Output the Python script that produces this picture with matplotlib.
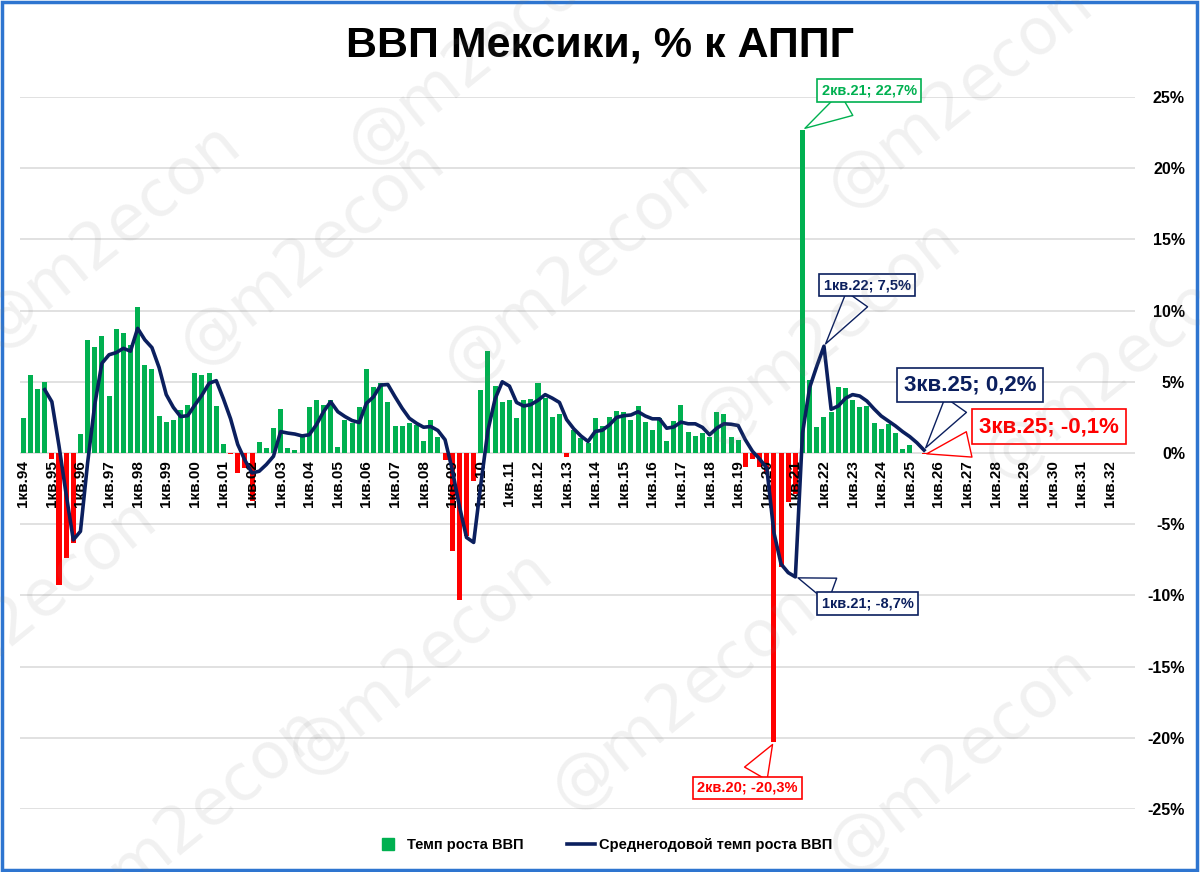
import numpy as np
import matplotlib
matplotlib.use("Agg")
from matplotlib import pyplot as plt
from matplotlib.patches import Rectangle
from matplotlib.lines import Line2D

plt.rcParams['font.family'] = ['Liberation Sans', 'DejaVu Sans']

# quarterly y/y GDP growth, 1кв.94 .. 3кв.25
gdp_growth = [
    2.47, 5.5, 4.5, 5.0,        # 94
    -0.4, -9.3, -7.35, -6.3,    # 95
    1.35, 7.9, 7.45, 8.25,      # 96
    4.0, 8.7, 8.4, 7.6,         # 97
    10.25, 6.15, 5.9, 2.6,      # 98
    2.2, 2.35, 3.0, 3.35,       # 99
    5.65, 5.5, 5.65, 3.3,       # 00
    0.6, -0.05, -1.4, -1.05,    # 01
    -3.4, 0.8, 0.35, 1.75,      # 02
    3.1, 0.35, 0.2, 1.1,        # 03
    3.25, 3.75, 3.35, 3.75,     # 04
    0.42, 2.3, 2.1, 3.2,        # 05
    5.93, 4.6, 4.95, 3.56,      # 06
    1.9, 1.9, 2.14, 1.95,       # 07
    0.81, 2.33, 1.1, -0.5,      # 08
    -6.85, -10.35, -5.85, -2.0, # 09
    4.45, 7.15, 4.7, 3.55,      # 10
    3.7, 2.45, 3.7, 3.8,        # 11
    4.9, 3.85, 2.5, 2.75,       # 12
    -0.3, 1.6, 1.05, 0.7,       # 13
    2.45, 1.9, 2.5, 2.95,       # 14
    2.85, 2.35, 3.3, 2.2,       # 15
    1.63, 2.44, 0.86, 2.28,     # 16
    3.37, 1.44, 1.16, 1.4,      # 17
    1.12, 2.86, 2.74, 1.12,     # 18
    0.93, -0.98, -0.42, -0.98,  # 19
    -1.3, -20.3, -8.0, -3.44,   # 20
    -2.9, 22.7, 5.1, 1.86,      # 21
    2.56, 2.9, 4.6, 4.53,       # 22
    3.72, 3.26, 3.3, 2.1,       # 23
    1.7, 2.02, 1.4, 0.28,       # 24
    0.58, 0.0, -0.1,            # 25
]

# average annual growth, 4кв.94 .. 3кв.25
avg_growth = [
    4.45,
    3.6, 0.5, -2.9, -6.1,
    -5.5, -0.7, 3.4, 6.3,
    6.9, 7.05, 7.35, 7.15,
    8.75, 7.95, 7.4, 6.0,
    4.1, 3.2, 2.56, 2.62,
    3.37, 4.07, 4.9, 5.08,
    3.8, 2.4, 0.6, -0.5,
    -1.4, -1.28, -0.81, -0.23,
    1.5, 1.4, 1.33, 1.2,
    1.28, 1.98, 2.9, 3.6,
    2.9, 2.56, 2.28, 2.14,
    3.49, 3.95, 4.77, 4.81,
    3.95, 3.14, 2.44, 2.09,
    1.81, 1.86, 1.58, 0.93,
    -1.16, -3.72, -5.93, -6.28,
    -2.2, 1.6, 3.8, 5.0,
    4.7, 3.55, 3.3, 3.4,
    3.7, 4.1, 3.85, 3.55,
    2.35, 1.7, 1.2, 0.81,
    1.51, 1.6, 1.98, 2.5,
    2.62, 2.67, 2.9, 2.6,
    2.4, 2.4, 1.74, 1.83,
    2.17, 2.05, 2.05, 1.8,
    1.28, 1.74, 2.05, 2.02,
    1.93, 0.93, 0.12, -0.42,
    -1.05, -5.6, -7.8, -8.4,
    -8.7, 1.4, 4.6, 6.1,
    7.5, 3.07, 3.3, 3.84,
    4.1, 4.0, 3.65, 3.1,
    2.6, 2.25, 1.9, 1.5,
    1.15, 0.72, 0.2,
]
avg_start = 3  # 4кв.94

years = ['94', '95', '96', '97', '98', '99', '00', '01', '02', '03', '04', '05', '06',
         '07', '08', '09', '10', '11', '12', '13', '14', '15', '16', '17', '18', '19',
         '20', '21', '22', '23', '24', '25', '26', '27', '28', '29', '30', '31', '32']
tick_labels = ['1кв.' + y for y in years]

# callouts: (series, index, text, color, fontsize, offset in points)
callouts = [
    ('bar', 109, '2кв.21; 22,7%', '#00B050', 10.5, (48, 28)),
    ('bar', 105, '2кв.20; -20,3%', '#FF0000', 10.5, (-19, -33)),
    ('line', 112, '1кв.22; 7,5%', '#0B1F5E', 10.5, (31, 44)),
    ('line', 108, '1кв.21; -8,7%', '#0B1F5E', 10.5, (52, -19)),
    ('line', 126, '3кв.25; 0,2%', '#0B1F5E', 16, (33, 47)),
    ('bar', 126, '3кв.25; -0,1%', '#FF0000', 16, (90, 20)),
]

GREEN = '#00B050'
RED = '#FF0000'
NAVY = '#0B1F5E'

fig = plt.figure(figsize=(12, 8.72), dpi=100)
ax = fig.add_axes([0.0164, 0.0722, 0.9294, 0.8166])

# axis at zero first (set_position resets the ticks)
ax.spines['bottom'].set_position(('data', 0))
for s in ax.spines.values():
    s.set_visible(False)

n_cat = len(years) * 4
ax.set_xlim(-0.5, n_cat - 0.5)
ax.set_ylim(-25, 25)
yticks = np.arange(-25, 26, 5)

# gridlines under everything, tick labels over the bars, line over the labels
for yv in yticks:
    ax.axhline(yv, color='#D9D9D9', lw=1.1, zorder=0.5)

x = np.arange(len(gdp_growth))
vals = np.array(gdp_growth)
colors = [GREEN if v >= 0 else RED for v in vals]
ax.bar(x, vals, width=0.7, color=colors, zorder=1.5)

xl = np.arange(avg_start, avg_start + len(avg_growth))
ax.plot(xl, avg_growth, color=NAVY, lw=2.6, zorder=3, solid_joinstyle='round')

ax.set_yticks(yticks)
ax.set_yticklabels([f'{v}%' for v in yticks], fontweight='bold')
ax.yaxis.tick_right()
ax.tick_params(axis='y', length=0, pad=36, labelsize=11.5)
for lab in ax.get_yticklabels():
    lab.set_horizontalalignment('right')

ax.set_xticks(np.arange(0, n_cat, 4))
ax.set_xticklabels(tick_labels, rotation=90, fontsize=11, fontweight='bold')
ax.tick_params(axis='x', length=0, pad=5)
ax.set_axisbelow(False)  # axis zorder 2.5

for kind, idx, text, col, fs, off in callouts:
    if kind == 'bar':
        y = gdp_growth[idx]
    else:
        y = avg_growth[idx - avg_start]
    ax.annotate(text, xy=(idx, y), xytext=off, textcoords='offset points',
                ha='center', va='center', color=col, fontsize=fs, fontweight='bold',
                bbox=dict(boxstyle='square,pad=0.3', fc='white', ec=col, lw=1.2),
                arrowprops=dict(arrowstyle='wedge,tail_width=1.7,shrink_factor=0.5',
                                fc='white', ec=col, lw=1.0, mutation_scale=11),
                zorder=6)

fig.text(0.5, 0.948, 'ВВП Мексики, % к АППГ', ha='center', va='center',
         fontsize=31, fontweight='bold')

handles = [Line2D([], [], marker='s', ms=8, color=GREEN, ls='none'),
           Line2D([], [], color=NAVY, lw=2.6)]
fig.legend(handles, ['Темп роста ВВП', 'Среднегодовой темп роста ВВП'],
           loc='center', bbox_to_anchor=(0.503, 0.031), ncol=2, frameon=False,
           prop=dict(size=10.5, weight='bold'), handlelength=1.9, columnspacing=3,
           handletextpad=0.3)

# watermark
marks = [(0.09, 0.73), (0.26, 0.71), (0.40, 0.94), (0.48, 0.69), (0.69, 0.62),
         (0.80, 0.89), (0.93, 0.58), (0.35, 0.24), (0.57, 0.20), (0.80, 0.13),
         (0.16, 0.06), (0.02, 0.30)]
for mx, my in marks:
    fig.text(mx, my, '@m2econ', rotation=39, fontsize=46, color='gray', alpha=0.11,
             ha='center', va='center', zorder=10, family='DejaVu Sans')

fig.patches.append(Rectangle((0.0015, 0.002), 0.996, 0.996, transform=fig.transFigure,
                             fill=False, ec='#2E75D0', lw=2.5))

fig.savefig('out.png', dpi=100)
